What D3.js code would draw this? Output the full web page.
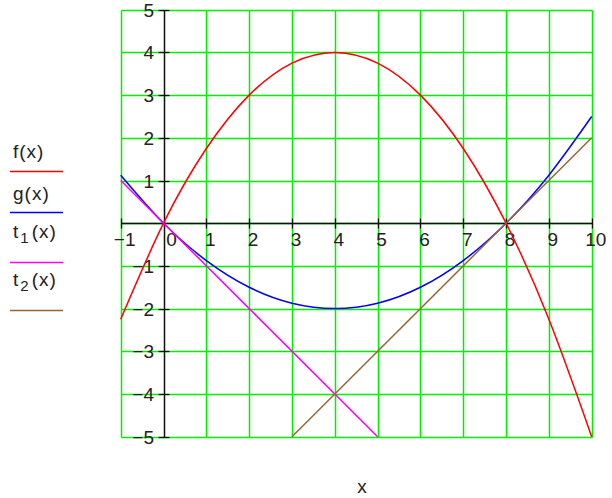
<!DOCTYPE html>
<html>
<head>
<meta charset="utf-8">
<script src="https://cdn.jsdelivr.net/npm/d3@7"></script>
<style>
  body { margin: 0; background: #fff; }
  svg { display: block; }
  text { font-family: Arial, "Liberation Sans", sans-serif; fill: #222; }
</style>
</head>
<body>
<script>
// values at whole x steps
const xs = [-1, 0, 1, 2, 3, 4, 5, 6, 7, 8, 9, 10];
const fVals = [-2.25, 0, 1.75, 3, 3.75, 4, 3.75, 3, 1.75, 0, -2.25, -5];
const gVals = [1.125, 0, -0.875, -1.5, -1.875, -2, -1.875, -1.5, -0.875, 0, 1.125, 2.5];
// the two straight lines, start and end points
const t1Pts = [[-1, 1], [5, -5]];
const t2Pts = [[3, -5], [10, 2]];

const xTicks = [-1, 0, 1, 2, 3, 4, 5, 6, 7, 8, 9, 10];
const yTicks = [-5, -4, -3, -2, -1, 1, 2, 3, 4, 5];
const gridY = [-5, -4, -3, -2, -1, 0, 1, 2, 3, 4, 5];

const legendNames = [["f", null], ["g", null], ["t", "1"], ["t", "2"]];
const legendColors = ["#ff0000", "#0000ff", "#ff00ff", "#996633"];

let width = 612, height = 498;

let svg = d3.select("body").append("svg")
    .attr("width", width)
    .attr("height", height);

let x = d3.scaleLinear().domain([-1, 10]).range([120.7, 591.7]);
let y = d3.scaleLinear().domain([-5, 5]).range([436.7, 9.7]);

const px = v => Math.round(x(v)) + 0.5;
const py = v => Math.round(y(v)) + 0.5;

// green grid
let grid = svg.append("g").attr("stroke", "#00f000").attr("stroke-width", 1.5);
grid.selectAll("line.v")
    .data(xTicks)
    .enter().append("line")
    .attr("class", "v")
    .attr("x1", d => px(d)).attr("x2", d => px(d))
    .attr("y1", py(5)).attr("y2", py(-5));
grid.selectAll("line.h")
    .data(gridY)
    .enter().append("line")
    .attr("class", "h")
    .attr("y1", d => py(d)).attr("y2", d => py(d))
    .attr("x1", px(-1)).attr("x2", px(10));

// axes through the origin
let x0 = px(0), y0 = py(0);
let axes = svg.append("g").attr("stroke", "#111").attr("stroke-width", 1.3);
axes.append("line").attr("x1", px(-1)).attr("x2", px(10)).attr("y1", y0).attr("y2", y0);
axes.append("line").attr("x1", x0).attr("x2", x0).attr("y1", py(5)).attr("y2", py(-5));
axes.selectAll("line.xt")
    .data(xTicks.filter(d => d !== 0))
    .enter().append("line")
    .attr("class", "xt")
    .attr("x1", d => px(d)).attr("x2", d => px(d))
    .attr("y1", y0 - 5).attr("y2", y0 + 5);
axes.selectAll("line.yt")
    .data(yTicks)
    .enter().append("line")
    .attr("class", "yt")
    .attr("y1", d => py(d)).attr("y2", d => py(d))
    .attr("x1", x0 - 6).attr("x2", x0 + 5);

// tick labels
svg.selectAll("text.xl")
    .data(xTicks)
    .enter().append("text")
    .attr("class", "xl")
    .attr("x", d => x(d) + (d === 0 ? 8 : 4))
    .attr("y", y0 + 22)
    .attr("text-anchor", "middle")
    .attr("font-size", 19)
    .text(d => d < 0 ? "\u2212" + Math.abs(d) : d);

svg.selectAll("text.yl")
    .data(yTicks)
    .enter().append("text")
    .attr("class", "yl")
    .attr("x", 154)
    .attr("y", d => y(d) + 7)
    .attr("text-anchor", "end")
    .attr("font-size", 19)
    .text(d => d < 0 ? "\u2212" + Math.abs(d) : d);

// curves
let line = d3.line()
    .x(d => x(d[0]))
    .y(d => y(d[1]));

let fPts = xs.map((v, i) => [v, fVals[i]]);
let gPts = xs.map((v, i) => [v, gVals[i]]);

let series = [
    { pts: fPts, curve: d3.curveNatural },
    { pts: gPts, curve: d3.curveNatural },
    { pts: t1Pts, curve: d3.curveLinear },
    { pts: t2Pts, curve: d3.curveLinear }
];

svg.append("g").selectAll("path")
    .data(series)
    .enter().append("path")
    .attr("d", d => line.curve(d.curve)(d.pts))
    .attr("fill", "none")
    .attr("stroke", (_, i) => legendColors[i])
    .attr("stroke-width", 1.5);

// legend on the left
const legendText = [158, 200, 238, 286];
const legendLine = [171.5, 212.5, 262.5, 310.5];

let leg = svg.append("g");
legendNames.forEach((n, i) => {
    let t = leg.append("text")
        .attr("x", 13)
        .attr("y", legendText[i])
        .attr("font-size", 19)
        .attr("letter-spacing", 1);
    t.append("tspan").text(n[0]);
    if (n[1]) {
        t.append("tspan").attr("font-size", 15).attr("dy", 5).attr("dx", 1).text(n[1]);
        t.append("tspan").attr("dy", -5).attr("dx", 2).text("(x)");
    } else {
        t.append("tspan").text("(x)");
    }
    leg.append("line")
        .attr("x1", 10).attr("x2", 63)
        .attr("y1", legendLine[i]).attr("y2", legendLine[i])
        .attr("stroke", legendColors[i])
        .attr("stroke-width", 1.5);
});

// axis name
svg.append("text")
    .attr("x", 362)
    .attr("y", 493)
    .attr("text-anchor", "middle")
    .attr("font-size", 19)
    .text("x");
</script>
</body>
</html>
